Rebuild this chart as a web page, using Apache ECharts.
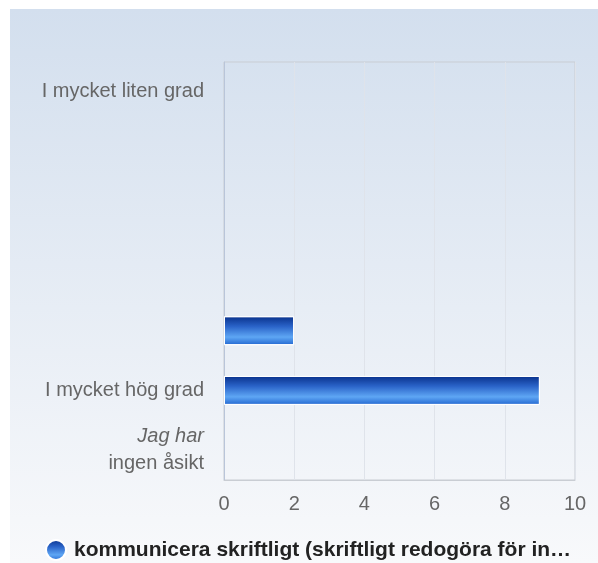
<html>
<head>
<script src="https://cdn.jsdelivr.net/npm/echarts@6/dist/echarts.min.js"></script>
</head>
<body style="margin:0">
<div id="container" style="width:598px;height:563px;"></div>
<script type="text/javascript">
var categories = ['I mycket liten grad', '', '', '', '', 'I mycket hög grad', '{i|Jag har}\ningen åsikt'];
var values = [0, 0, 0, 0, 2, 9, 0];
var seriesName = 'kommunicera skriftligt (skriftligt redogöra för in…';
var xTicks = [0, 2, 4, 6, 8, 10];

var dom = document.getElementById('container');
var myChart = echarts.init(dom, null, { renderer: 'canvas' });

var barColor = new echarts.graphic.LinearGradient(0, 0, 0, 1, [
    { offset: 0, color: '#08308a' },
    { offset: 0.35, color: '#2a63c8' },
    { offset: 0.72, color: '#5ea6f4' },
    { offset: 1, color: '#2166d0' }
]);

var option = {
    backgroundColor: '#ffffff',
    textStyle: { fontFamily: 'Liberation Sans' },
    graphic: [{
        type: 'rect',
        z: -10,
        shape: { x: 10, y: 9, width: 588, height: 554 },
        style: {
            fill: new echarts.graphic.LinearGradient(0, 0, 0, 1, [
                { offset: 0, color: '#d3dfee' },
                { offset: 1, color: '#f8f9fb' }
            ])
        }
    }],
    grid: {
        left: 224, right: 23, top: 62, bottom: 83,
        show: true, borderColor: '#c9cdd3', borderWidth: 1
    },
    legend: {
        left: 45, top: 539, padding: 0,
        icon: 'circle', itemWidth: 20, itemHeight: 20, itemGap: 8,
        textStyle: { fontSize: 21, fontWeight: 'bold', color: '#222', fontFamily: 'Liberation Sans', padding: [0, 0, 0, 3] },
        data: [seriesName]
    },
    xAxis: {
        type: 'value', min: 0, max: 10, interval: 2,
        axisLine: { show: true, lineStyle: { color: '#c9cdd3' } },
        axisTick: { show: false },
        splitLine: { lineStyle: { color: '#dfe3ea' } },
        axisLabel: {
            fontSize: 20, color: '#666', margin: 14,
            formatter: function (v) { return xTicks.indexOf(v) >= 0 ? String(v) : ''; }
        }
    },
    yAxis: {
        type: 'category', inverse: true, data: categories,
        axisLine: { show: true, lineStyle: { color: '#b9c5d9' } },
        axisTick: { show: false },
        axisLabel: {
            fontSize: 20, color: '#666', margin: 20, align: 'right', lineHeight: 27,
            rich: { i: { fontStyle: 'italic', fontSize: 20, color: '#666', lineHeight: 27 } }
        }
    },
    series: [{
        name: seriesName,
        type: 'bar',
        barWidth: 29,
        data: values.map(function (v) { return v === 0 ? '-' : v; }),
        itemStyle: { color: barColor, borderColor: '#ffffff', borderWidth: 1 }
    }]
};
myChart.setOption(option);
window.addEventListener('resize', myChart.resize);
</script>
</body>
</html>
